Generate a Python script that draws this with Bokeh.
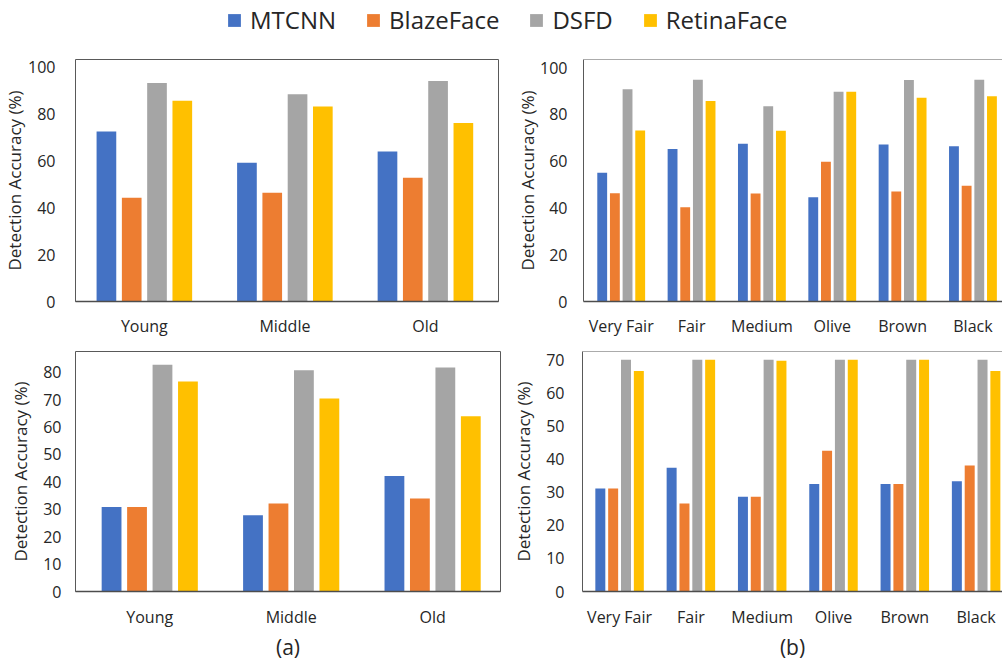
from bokeh.plotting import figure
from bokeh.models import (Range1d, FixedTicker, Legend, LegendItem, Span,
                          ColumnDataSource)
from bokeh.transform import dodge
from bokeh.layouts import column, row
from bokeh.embed import file_html
from bokeh.resources import INLINE

# ---------------- data ----------------
series = ["MTCNN", "BlazeFace", "DSFD", "RetinaFace"]
colors = ["#4472C4", "#ED7D31", "#A5A5A5", "#FFC000"]

age_groups = ["Young", "Middle", "Old"]
skin_tones = ["Very Fair", "Fair", "Medium", "Olive", "Brown", "Black"]

# (a) top panel: age groups
age_top_mtcnn = [72.6, 59.3, 64.1]
age_top_blazeface = [44.3, 46.5, 52.9]
age_top_dsfd = [93.4, 88.5, 94.2]
age_top_retinaface = [85.8, 83.3, 76.3]

# (a) bottom panel: age groups
age_bot_mtcnn = [30.8, 27.8, 42.1]
age_bot_blazeface = [30.8, 32.1, 33.9]
age_bot_dsfd = [82.7, 80.7, 81.7]
age_bot_retinaface = [76.6, 70.4, 63.9]

# (b) top panel: skin tones
skin_top_mtcnn = [55.1, 65.2, 67.5, 44.6, 67.2, 66.4]
skin_top_blazeface = [46.3, 40.3, 46.2, 59.8, 47.0, 49.5]
skin_top_dsfd = [90.8, 94.8, 83.5, 89.7, 94.7, 94.8]
skin_top_retinaface = [73.1, 85.7, 73.0, 89.7, 87.1, 87.8]

# (b) bottom panel: skin tones
skin_bot_mtcnn = [31.1, 37.4, 28.6, 32.5, 32.5, 33.3]
skin_bot_blazeface = [31.1, 26.6, 28.6, 42.5, 32.5, 38.1]
skin_bot_dsfd = [70.0, 70.0, 70.0, 70.0, 70.0, 70.0]
skin_bot_retinaface = [66.6, 70.0, 69.7, 70.0, 70.0, 66.6]

ticks_top = [0, 20, 40, 60, 80, 100]
ticks_age_bot = [0, 10, 20, 30, 40, 50, 60, 70, 80]
ticks_skin_bot = [0, 10, 20, 30, 40, 50, 60, 70]

# ---------------- style ----------------
FONT = "Open Sans"
TXT = "#262626"
BOX = "#595959"
AXIS = "#4d4d4d"
offsets = [-0.27, -0.09, 0.09, 0.27]
BAR_W = 0.14


def make_source(cats, vals):
    return ColumnDataSource(dict(x=list(range(len(cats))),
                                 **{s: v for s, v in zip(series, vals)}))


def panel(cats, vals, width, height, mb_left, mb_right, mb_top, mb_bottom,
          x_start, x_end, y_end, yticks, ytick_standoff, ylabel_standoff,
          xtick_standoff, boxed, tag=None, tag_standoff=0):
    p = figure(width=width, height=height, output_backend="svg",
               toolbar_location=None,
               x_range=Range1d(x_start, x_end), y_range=Range1d(0, y_end),
               min_border_left=mb_left, min_border_right=mb_right,
               min_border_top=mb_top, min_border_bottom=mb_bottom)
    p.background_fill_color = "white"
    p.border_fill_color = "white"
    p.grid.visible = False

    src = make_source(cats, vals)
    for s, c, off in zip(series, colors, offsets):
        p.vbar(x=dodge("x", off), top=s, width=BAR_W, source=src,
               fill_color=c, line_color=None)

    # x axis
    xa = p.xaxis[0]
    xa.ticker = FixedTicker(ticks=list(range(len(cats))))
    xa.major_label_overrides = {i: c for i, c in enumerate(cats)}
    xa.major_tick_out = 0
    xa.major_tick_in = 0
    xa.minor_tick_out = 0
    xa.minor_tick_in = 0
    xa.major_label_standoff = xtick_standoff
    xa.major_label_text_font = FONT
    xa.major_label_text_font_size = "16px"
    xa.major_label_text_color = TXT
    xa.axis_line_color = AXIS
    xa.axis_line_width = 1.5
    if tag:
        xa.axis_label = tag
        xa.axis_label_text_font = FONT
        xa.axis_label_text_font_size = "21px"
        xa.axis_label_text_font_style = "normal"
        xa.axis_label_text_color = TXT
        xa.axis_label_standoff = tag_standoff

    # y axis
    ya = p.yaxis[0]
    ya.ticker = FixedTicker(ticks=yticks)
    ya.major_tick_out = 0
    ya.major_tick_in = 0
    ya.minor_tick_out = 0
    ya.minor_tick_in = 0
    ya.major_label_standoff = ytick_standoff
    ya.major_label_text_font = FONT
    ya.major_label_text_font_size = "16px"
    ya.major_label_text_color = TXT
    ya.axis_label = "Detection Accuracy (%)"
    ya.axis_label_text_font = FONT
    ya.axis_label_text_font_size = "17px"
    ya.axis_label_text_font_style = "normal"
    ya.axis_label_text_color = TXT
    ya.axis_label_standoff = ylabel_standoff

    if boxed:
        p.outline_line_color = BOX
        p.outline_line_width = 1
        ya.axis_line_color = None
    else:
        p.outline_line_color = None
        ya.axis_line_color = BOX
        ya.axis_line_width = 1
        p.add_layout(Span(location=y_end, dimension="width",
                          line_color=BOX, line_width=1))
    return p


# legend strip: same bars, kept far outside its (invisible) frame range
lg = figure(width=1002, height=48, output_backend="svg", toolbar_location=None,
            x_range=Range1d(0, 1), y_range=Range1d(500, 501),
            x_axis_type=None, y_axis_type=None, min_border=0)
lg.outline_line_color = None
lg.background_fill_color = "white"
lg.border_fill_color = "white"
lg_src = make_source(age_groups, [age_top_mtcnn, age_top_blazeface,
                                  age_top_dsfd, age_top_retinaface])
items = []
for s, c, off in zip(series, colors, offsets):
    r = lg.vbar(x=dodge("x", off), top=s, width=BAR_W, source=lg_src,
                fill_color=c, line_color=None)
    items.append(LegendItem(label=s, renderers=[r]))
legend = Legend(items=items, orientation="horizontal", location=(226, 12),
                padding=0, margin=0, spacing=29, label_standoff=8,
                glyph_width=16, glyph_height=16,
                border_line_color=None, background_fill_alpha=0,
                label_text_font=FONT, label_text_font_size="24px",
                label_text_color=TXT)
lg.add_layout(legend)

tl = panel(age_groups,
           [age_top_mtcnn, age_top_blazeface, age_top_dsfd, age_top_retinaface],
           505, 292, 75, 7, 11, 39, -0.49, 2.52, 103.4, ticks_top,
           20, -1, 13, True)
tr = panel(skin_tones,
           [skin_top_mtcnn, skin_top_blazeface, skin_top_dsfd, skin_top_retinaface],
           497, 292, 78, 0, 11, 39, -0.536, 5.42, 103.5, ticks_top,
           16, -2, 13, False)
bl = panel(age_groups,
           [age_bot_mtcnn, age_bot_blazeface, age_bot_dsfd, age_bot_retinaface],
           505, 323, 75, 5, 11, 67, -0.525, 2.48, 87.5, ticks_age_bot,
           14, 8, 14, True, tag="(a)", tag_standoff=2)
br = panel(skin_tones,
           [skin_bot_mtcnn, skin_bot_blazeface, skin_bot_dsfd, skin_bot_retinaface],
           497, 323, 77, 0, 11, 67, -0.52, 5.37, 72.5, ticks_skin_bot,
           18, 8, 14, False, tag="(b)", tag_standoff=2)

layout = column(lg, row(tl, tr), row(bl, br))
open("out.html", "w").write(file_html(layout, INLINE))
